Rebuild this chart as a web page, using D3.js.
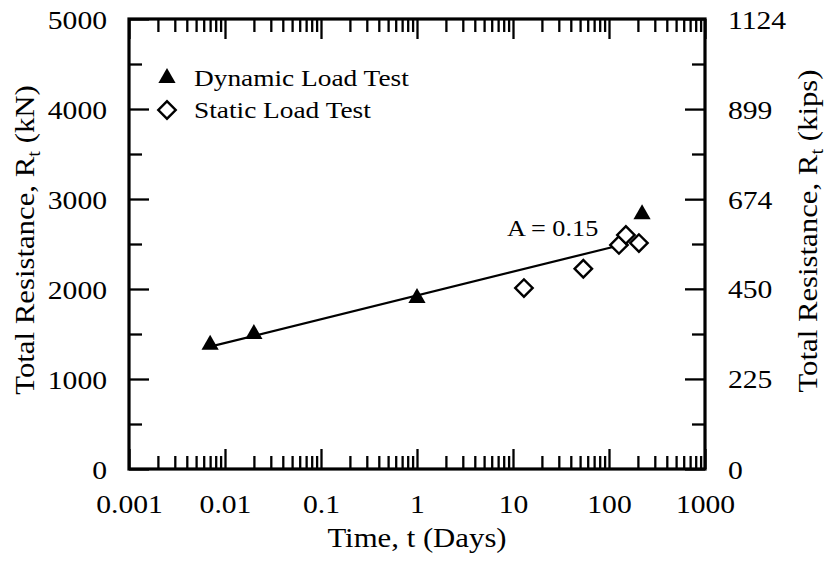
<!DOCTYPE html>
<html>
<head>
<meta charset="utf-8">
<script src="https://cdn.jsdelivr.net/npm/d3@7/dist/d3.min.js"></script>
<style>
  html, body { margin: 0; padding: 0; background: #fff; }
  svg { display: block; }
  text { font-family: "Liberation Serif", "Times New Roman", serif; fill: #000; }
</style>
</head>
<body>
<svg id="chart" width="827" height="562"></svg>
<script>
// Dynamic load tests (time in days, resistance in kN)
const dynamicTime = [0.007, 0.02, 1, 221];
const dynamicRes  = [1380, 1500, 1900, 2830];

// Static load tests
const staticTime = [13, 54, 127, 150, 205];
const staticRes  = [2010, 2225, 2490, 2600, 2510];

// Setup trend line, A = 0.15
const trendTime = [0.0065, 140];
const trendRes  = [1351, 2495];
const trendLabel = "A = 0.15";

// Axis ticks
const timeMajor = [0.001, 0.01, 0.1, 1, 10, 100, 1000];
const timeLabels = ["0.001", "0.01", "0.1", "1", "10", "100", "1000"];
const resMajor = [0, 1000, 2000, 3000, 4000, 5000];
const resMinor = [500, 1500, 2500, 3500, 4500];
const kipTicks = [0, 225, 450, 674, 899, 1124];

const legendItems = ["Dynamic Load Test", "Static Load Test"];

const SX = 1.14; // horizontal glyph stretch of the serif face
const svg = d3.select("#chart");
const L = 129, R = 705, T = 19, B = 469;

const x = d3.scaleLog().domain([0.001, 1000]).range([L, R]);
const y = d3.scaleLinear().domain([0, 5000]).range([B, T]);
const yKips = d3.scaleLinear().domain([0, 1124]).range([B, T]);

const timeMinor = [];
timeMajor.slice(0, -1).forEach(d => { for (let k = 2; k <= 9; k++) timeMinor.push(d * k); });

function styleTicks(g) {
  g.select(".domain").remove();
  g.selectAll(".tick line").attr("stroke", "#000").attr("stroke-width", 2.3);
}
const noLabel = () => "";

// bottom axis
svg.append("g").attr("transform", `translate(0,${B})`)
  .call(d3.axisBottom(x).tickValues(timeMinor).tickSize(-13).tickFormat(noLabel))
  .call(styleTicks);
const bottom = svg.append("g").attr("transform", `translate(0,${B})`)
  .call(d3.axisBottom(x).tickValues(timeMajor).tickSize(-20)
    .tickFormat((d, i) => timeLabels[i]))
  .call(styleTicks);
bottom.selectAll(".tick text")
  .attr("y", null).attr("dy", null)
  .attr("font-size", 26).attr("text-anchor", "middle")
  .attr("transform", `translate(0,44) scale(${SX},1)`);

// top axis
svg.append("g").attr("transform", `translate(0,${T})`)
  .call(d3.axisTop(x).tickValues(timeMinor).tickSize(-13).tickFormat(noLabel))
  .call(styleTicks);
svg.append("g").attr("transform", `translate(0,${T})`)
  .call(d3.axisTop(x).tickValues(timeMajor).tickSize(-20).tickFormat(noLabel))
  .call(styleTicks);

// left axis
svg.append("g").attr("transform", `translate(${L},0)`)
  .call(d3.axisLeft(y).tickValues(resMinor).tickSize(-13).tickFormat(noLabel))
  .call(styleTicks);
const left = svg.append("g").attr("transform", `translate(${L},0)`)
  .call(d3.axisLeft(y).tickValues(resMajor).tickSize(-20).tickFormat(d3.format("d")))
  .call(styleTicks);
left.selectAll(".tick text")
  .attr("x", null).attr("dy", null)
  .attr("font-size", 26).attr("text-anchor", "end")
  .attr("transform", `translate(-22,9) scale(${SX},1)`);

// right axis (kips)
svg.append("g").attr("transform", `translate(${R},0)`)
  .call(d3.axisRight(y).tickValues(resMinor).tickSize(-13).tickFormat(noLabel))
  .call(styleTicks);
const right = svg.append("g").attr("transform", `translate(${R},0)`)
  .call(d3.axisRight(yKips).tickValues(kipTicks).tickSize(-20).tickFormat(d3.format("d")))
  .call(styleTicks);
right.selectAll(".tick text")
  .attr("x", null).attr("dy", null)
  .attr("font-size", 26).attr("text-anchor", "start")
  .attr("transform", `translate(23,9) scale(${SX},1)`);

// frame
svg.append("rect")
  .attr("x", L).attr("y", T).attr("width", R - L).attr("height", B - T)
  .attr("fill", "none").attr("stroke", "#000").attr("stroke-width", 3.2);

// trend line
svg.append("path")
  .datum(trendTime.map((t, i) => [t, trendRes[i]]))
  .attr("d", d3.line().x(d => x(d[0])).y(d => y(d[1])))
  .attr("fill", "none").attr("stroke", "#000").attr("stroke-width", 2.2);

svg.append("text")
  .attr("font-size", 23)
  .attr("transform", `translate(507,236) scale(${SX},1)`)
  .text(trendLabel);

const triangle = d3.symbol().type(d3.symbolTriangle).size(128)();
const diamond = d3.symbol().type(d3.symbolSquare).size(152)();

// dynamic markers
svg.append("g").selectAll("path")
  .data(dynamicTime.map((t, i) => [t, dynamicRes[i]]))
  .join("path")
  .attr("d", triangle)
  .attr("transform", d => `translate(${x(d[0])},${y(d[1])})`)
  .attr("fill", "#000");

// static markers
svg.append("g").selectAll("path")
  .data(staticTime.map((t, i) => [t, staticRes[i]]))
  .join("path")
  .attr("d", diamond)
  .attr("transform", d => `translate(${x(d[0])},${y(d[1])}) rotate(45)`)
  .attr("fill", "#fff").attr("stroke", "#000").attr("stroke-width", 2.4);

// legend
const lg = svg.append("g");
lg.append("path").attr("d", triangle)
  .attr("transform", "translate(167,78)").attr("fill", "#000");
lg.append("path").attr("d", diamond)
  .attr("transform", "translate(167,110) rotate(45)")
  .attr("fill", "#fff").attr("stroke", "#000").attr("stroke-width", 2.4);
lg.selectAll("text").data(legendItems).join("text")
  .attr("font-size", 24)
  .attr("transform", (d, i) => `translate(194,${86 + i * 32}) scale(${SX},1)`)
  .text(d => d);

// axis titles
svg.append("text")
  .attr("font-size", 27).attr("text-anchor", "middle")
  .attr("transform", `translate(${(L + R) / 2},547) scale(${SX},1)`)
  .text("Time, t (Days)");

function resTitle(g, unit) {
  g.append("tspan").text("Total Resistance, R");
  g.append("tspan").attr("font-size", 18).attr("dy", 6).text("t");
  g.append("tspan").attr("dy", -6).text(` (${unit})`);
}
const lt = svg.append("text")
  .attr("font-size", 27).attr("text-anchor", "middle")
  .attr("transform", `translate(34,240) rotate(-90) scale(${SX},1)`);
resTitle(lt, "kN");
const rt = svg.append("text")
  .attr("font-size", 27).attr("text-anchor", "middle")
  .attr("transform", `translate(817,231) rotate(-90) scale(${SX},1)`);
resTitle(rt, "kips");
</script>
</body>
</html>
